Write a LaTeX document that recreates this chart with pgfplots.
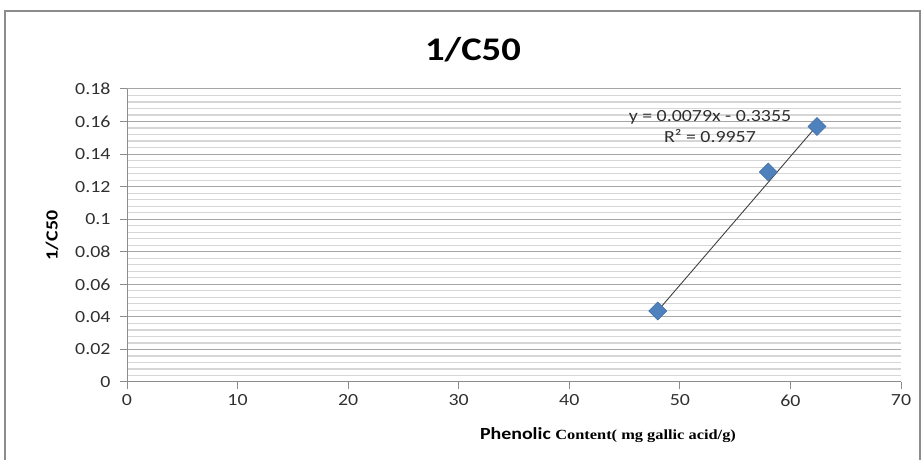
\documentclass[border=0pt]{standalone}
\usepackage{fontspec}
\setmainfont{Carlito}[FakeStretch=1.17]
\newfontfamily\serifbold{Liberation Serif}[FakeStretch=1.17]
\usepackage{pgfplots}
\pgfplotsset{compat=1.18}
\definecolor{markblue}{HTML}{4F81BD}
\definecolor{markedge}{HTML}{3F6FA8}
\definecolor{majgrid}{HTML}{A6A6A6}
\definecolor{mingrid}{HTML}{D6D6D6}
\definecolor{axgray}{HTML}{8C8C8C}
\definecolor{txt}{HTML}{303030}

\begin{document}
\begin{tikzpicture}[x=1pt,y=1pt]
\useasboundingbox (0,0) rectangle (923,460);
\draw[axgray, line width=1.3pt] (5,-5) -- (5,449) -- (920,449) -- (920,-5);

\begin{axis}[
    at={(127pt,78pt)}, anchor=south west,
    scale only axis, width=774pt, height=293pt,
    xmin=0, xmax=70, ymin=0, ymax=0.18,
    xtick={0,10,20,30,40,50,60,70},
    ytick={0,0.02,0.04,0.06,0.08,0.1,0.12,0.14,0.16,0.18},
    minor y tick num=4,
    axis x line=bottom, axis y line=left,
    axis line style={-, axgray, line width=1pt},
    tick align=outside, major tick length=7pt, minor tick length=0pt,
    tick style={axgray, line width=1pt},
    ymajorgrids, yminorgrids,
    major grid style={majgrid, line width=1pt},
    minor grid style={mingrid, line width=1.2pt},
    ticklabel style={font=\fontsize{17}{20}\selectfont, text=txt},
    /pgf/number format/assume math mode=true,
    yticklabel style={/pgf/number format/fixed, /pgf/number format/precision=2, xshift=-6pt},
    xticklabel style={yshift=-2pt},
    clip=false,
]
% linear trend line y = 0.0079x - 0.3355
\addplot[black!75, line width=0.9pt] coordinates {(48,0.0437) (62.4,0.1575)};
\addplot[only marks, mark=square*, mark size=6.4pt,
    mark options={rotate=45, fill=markblue, draw=markedge, line width=0.5pt}]
    coordinates {(48,0.0436) (58,0.129) (62.4,0.157)};
\end{axis}

\node[font=\fontsize{33}{36}\selectfont\bfseries, text=black] at (473,410) {1/C50};
\node[font=\fontsize{17}{20}\selectfont\bfseries, text=black, rotate=90] at (52,224.5) {1/C50};
\node[font=\fontsize{17}{21}\selectfont, text=txt, align=center] at (710,333.5)
    {y = 0.0079x - 0.3355\\R² = 0.9957};
\node[text=black, inner sep=0pt] at (608,25)
    {\fontsize{17}{20}\selectfont\bfseries Phenolic\ \serifbold\fontsize{14}{16}\selectfont\bfseries Content( mg gallic acid/g)};
\end{tikzpicture}
\end{document}
